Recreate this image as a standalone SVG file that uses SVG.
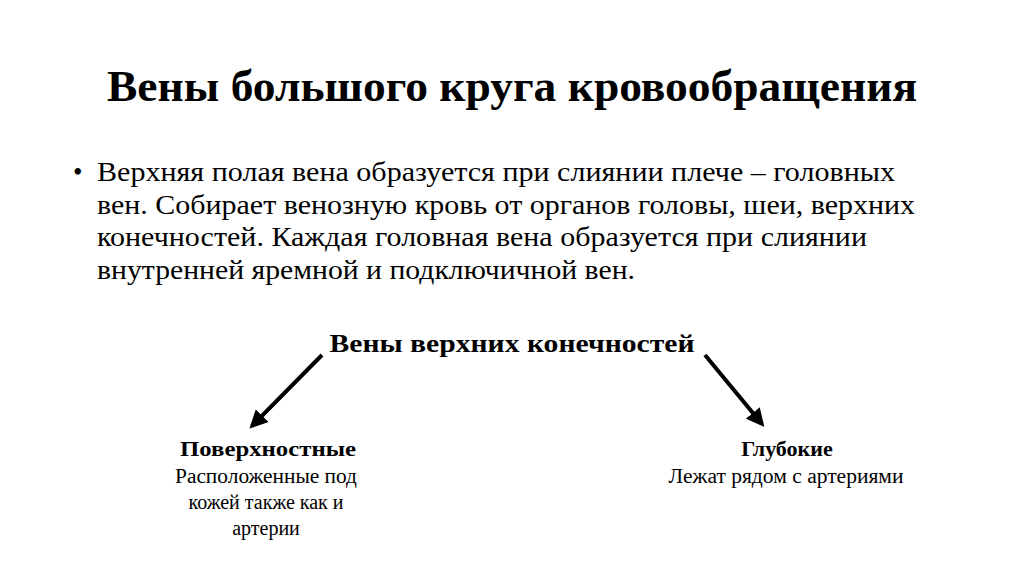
<svg xmlns="http://www.w3.org/2000/svg" width="1024" height="574" viewBox="0 0 1024 574">
<style>
text{font-family:"Liberation Serif","Times New Roman",serif;fill:#000}
.t{font-size:44px;font-weight:bold;text-anchor:middle}
.b{font-size:27px}
.h{font-size:25px;font-weight:bold;text-anchor:middle}
.n{font-size:22px;font-weight:bold;text-anchor:middle}
.s{font-size:20px;text-anchor:middle}
</style>
<defs><marker id="a" viewBox="0 0 10 10" refX="8" refY="5" markerWidth="4.5" markerHeight="4.5" orient="auto"><path d="M0,0L10,5L0,10z" fill="#000"/></marker></defs>
<rect width="1024" height="574" fill="#fff"/>
<text class="t" x="512" y="101" textLength="810" lengthAdjust="spacingAndGlyphs">Вены большого круга кровообращения</text>
<g id="bullet">
<text class="b" x="73" y="181">•</text>
<text class="b" x="97" y="181" textLength="798" lengthAdjust="spacingAndGlyphs">Верхняя полая вена образуется при слиянии плече – головных</text>
<text class="b" x="97" y="214" textLength="818" lengthAdjust="spacingAndGlyphs">вен. Собирает венозную кровь от органов головы, шеи, верхних</text>
<text class="b" x="97" y="246" textLength="770" lengthAdjust="spacingAndGlyphs">конечностей. Каждая головная вена образуется при слиянии</text>
<text class="b" x="97" y="279" textLength="538" lengthAdjust="spacingAndGlyphs">внутренней яремной и подключичной вен.</text>
</g>
<g id="root"><text class="h" x="512" y="352" textLength="365" lengthAdjust="spacingAndGlyphs">Вены верхних конечностей</text></g>
<g id="left"><text class="n" x="268" y="456" textLength="176" lengthAdjust="spacingAndGlyphs">Поверхностные</text>
<text class="s" x="266" y="483" textLength="182" lengthAdjust="spacingAndGlyphs">Расположенные под</text>
<text class="s" x="266" y="509">кожей также как и</text>
<text class="s" x="266" y="535">артерии</text></g>
<g id="right"><text class="n" x="787" y="456">Глубокие</text>
<text class="s" x="786" y="483" textLength="235" lengthAdjust="spacingAndGlyphs">Лежат рядом с артериями</text></g>
<g id="connectors" stroke="#000" stroke-width="4" marker-end="url(#a)">
<line x1="322" y1="355" x2="252" y2="426"/>
<line x1="705" y1="355" x2="762" y2="424"/>
</g>
</svg>
